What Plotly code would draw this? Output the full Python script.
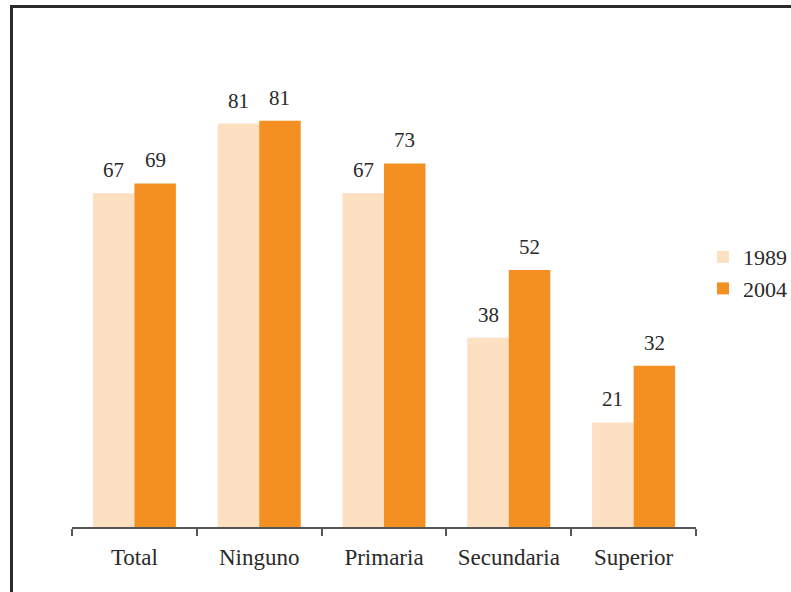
import plotly.graph_objects as go

categories = ["Total", "Ninguno", "Primaria", "Secundaria", "Superior"]
values_1989 = [67, 81, 67, 38, 21]
values_2004 = [69, 81.6, 73, 51.6, 32.4]
labels_1989 = ["67", "81", "67", "38", "21"]
labels_2004 = ["69", "81", "73", "52", "32"]
series_names = ["1989", "2004"]

color_1989 = "#FDDFC1"
color_2004 = "#F39021"
font_family = "Liberation Serif, Times New Roman, serif"
text_color = "#2a2a2a"

W, H = 791, 592
L, R, T, B = 72, 95, 20, 65
plot_w = W - L - R
plot_h = H - T - B
px_per_unit = 4.98
y_max = plot_h / px_per_unit

fig = go.Figure()
fig.add_trace(go.Bar(x=categories, y=values_1989, name=series_names[0],
                     marker=dict(color=color_1989, line=dict(width=0))))
fig.add_trace(go.Bar(x=categories, y=values_2004, name=series_names[1],
                     marker=dict(color=color_2004, line=dict(width=0))))

bargap = 0.335
bar_w_px = plot_w / len(categories) * (1 - bargap) / 2

annotations = []
for cat, v, lab in zip(categories, values_1989, labels_1989):
    annotations.append(dict(x=cat, y=v, text=lab, showarrow=False, xshift=-bar_w_px / 2,
                            yanchor="bottom", yshift=9,
                            font=dict(family=font_family, size=21, color=text_color)))
for cat, v, lab in zip(categories, values_2004, labels_2004):
    annotations.append(dict(x=cat, y=v, text=lab, showarrow=False, xshift=bar_w_px / 2,
                            yanchor="bottom", yshift=9,
                            font=dict(family=font_family, size=21, color=text_color)))

# frame around the figure (extends beyond the canvas at right/bottom)
fx0 = (11.5 - L) / plot_w
fy1 = (H - B - 6.5) / plot_h
shapes = [dict(type="rect", xref="paper", yref="paper", x0=fx0, x1=3, y0=-3, y1=fy1,
               line=dict(color="#2b2b2b", width=3), layer="above")]

fig.update_layout(
    width=W, height=H,
    margin=dict(l=L, r=R, t=T, b=B, autoexpand=False),
    paper_bgcolor="white", plot_bgcolor="white",
    barmode="group", bargap=bargap, bargroupgap=0,
    font=dict(family=font_family, color=text_color, size=22),
    xaxis=dict(showline=True, linecolor="#555555", linewidth=1.5,
               ticks="outside", tickson="boundaries", ticklen=7, tickwidth=1.5,
               tickcolor="#555555", showgrid=False, ticklabelstandoff=9,
               tickfont=dict(family=font_family, size=23, color=text_color)),
    yaxis=dict(range=[0, y_max], visible=False, showgrid=False, zeroline=False),
    legend=dict(x=(743 - 40 - L) / plot_w, xanchor="left",
                y=(H - B - 236) / plot_h, yanchor="top",
                font=dict(family=font_family, size=22, color=text_color),
                itemwidth=30, bgcolor="rgba(0,0,0,0)"),
    annotations=annotations,
    shapes=shapes,
)

fig.write_html("out.html")
